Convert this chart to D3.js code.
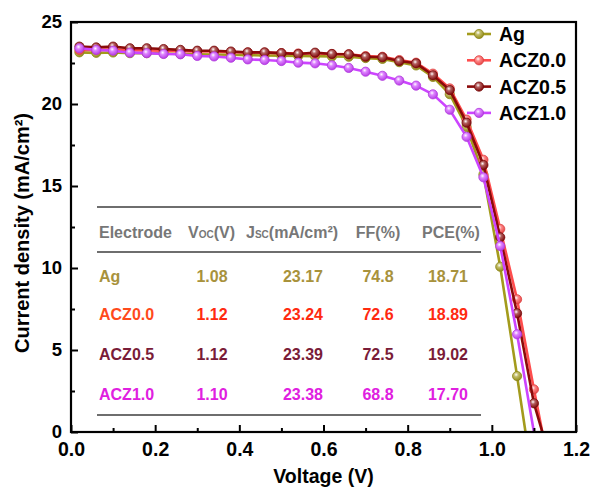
<!DOCTYPE html>
<html>
<head>
<meta charset="utf-8">
<script src="https://cdn.jsdelivr.net/npm/d3@7"></script>
<style>
  body { margin:0; background:#fff; }
  text { font-family: "Liberation Sans", Arial, sans-serif; font-weight: bold; }
</style>
</head>
<body>
<svg width="592" height="488"></svg>
<script>
//***************************** data *****************************//
var voltage = [0.02,0.06,0.10,0.14,0.18,0.22,0.26,0.30,0.34,0.38,0.42,0.46,0.50,0.54,
  0.58,0.62,0.66,0.70,0.74,0.78,0.82,0.86,0.90,0.94,0.98,1.02,1.06,1.10];

var names = ["Ag","ACZ0.0","ACZ0.5","ACZ1.0"];
var jAg   = [23.15,23.12,23.14,23.1,23.1,23.08,23.05,23.03,23.02,23.0,22.98,22.96,22.95,22.93,
  22.92,22.9,22.88,22.8,22.75,22.55,22.35,21.65,20.6,18.6,15.7,10.08,3.41];
var jAcz00 = [23.3,23.3,23.32,23.28,23.27,23.25,23.22,23.2,23.2,23.16,23.14,23.13,23.1,23.08,
  23.08,23.05,23.03,22.92,22.88,22.68,22.52,21.85,20.95,19.05,16.6,12.38,8.09,2.6];
var jAcz05 = [23.5,23.45,23.5,23.4,23.4,23.35,23.3,23.25,23.25,23.2,23.15,23.15,23.1,23.05,
  23.13,23.05,23.03,22.88,22.85,22.62,22.48,21.75,20.85,18.86,16.28,11.87,7.24,1.75];
var jAcz10 = [23.4,23.3,23.25,23.13,23.1,23.05,23.03,22.93,22.9,22.82,22.72,22.68,22.62,22.52,
  22.48,22.36,22.2,21.97,21.72,21.43,21.12,20.59,19.65,18.0,15.53,11.34,5.96];

// table
var vocVals = ["1.08","1.12","1.12","1.10"];
var jscVals = ["23.17","23.24","23.39","23.38"];
var ffVals  = ["74.8","72.6","72.5","68.8"];
var pceVals = ["18.71","18.89","19.02","17.70"];
var vocNum = [1.08,1.12,1.12,1.10];

var xTicks = [0,0.2,0.4,0.6,0.8,1.0,1.2];
var yTicks = [0,5,10,15,20,25];

var lineColors = ["#a39b1c","#ff4d4d","#8b0a0a","#cc44ff"];
var tableColors = ["#a8923c","#ff4a1c","#7a1c38","#e020e0"];
var valueColors = ["#a8923c","#ff2a10","#7a1c38","#e020e0"];

//***************************** chart *****************************//
var svg = d3.select("svg");
var margins = {top:22, left:71, right:16, bottom:56};
var width = 592 - margins.left - margins.right;
var height = 488 - margins.top - margins.bottom;

var xScale = d3.scaleLinear().domain([0,1.2]).range([0,width]);
var yScale = d3.scaleLinear().domain([0,25]).range([height,0]);

var defs = svg.append("defs");
defs.append("clipPath").attr("id","clip")
  .append("rect").attr("width",width).attr("height",height);
lineColors.forEach(function(c,i){
  var g = defs.append("radialGradient").attr("id","ball"+i)
    .attr("cx","40%").attr("cy","35%").attr("r","65%");
  g.append("stop").attr("offset","0%").attr("stop-color","#ffffff");
  g.append("stop").attr("offset","35%").attr("stop-color",d3.interpolateRgb(c,"#fff")(0.35));
  g.append("stop").attr("offset","100%").attr("stop-color",d3.color(c).darker(0.3));
});

var plot = svg.append("g")
  .attr("transform","translate("+margins.left+","+margins.top+")");

var series = [jAg,jAcz00,jAcz05,jAcz10].map(function(arr,i){
  var pts = arr.map(function(j,k){ return {v:voltage[k], j:j}; });
  return {name:names[i], pts:pts, end:{v:vocNum[i], j:0}, i:i};
});

var line = d3.line().x(function(d){return xScale(d.v);}).y(function(d){return yScale(d.j);});

var curves = plot.append("g").attr("clip-path","url(#clip)");
series.forEach(function(s){
  var g = curves.append("g");
  g.append("path")
    .attr("d", line(s.pts.concat([s.end])))
    .attr("fill","none")
    .attr("stroke",lineColors[s.i])
    .attr("stroke-width",2.6);
  g.selectAll("circle").data(s.pts).enter().append("circle")
    .attr("cx",function(d){return xScale(d.v);})
    .attr("cy",function(d){return yScale(d.j);})
    .attr("r",4.6)
    .attr("fill","url(#ball"+s.i+")")
    .attr("stroke",d3.color(lineColors[s.i]).darker(0.4))
    .attr("stroke-width",0.8);
});

// axes
var xAxis = d3.axisBottom(xScale).tickValues(xTicks).tickSizeInner(-7).tickSizeOuter(0)
  .tickFormat(d3.format(".1f"));
var xg = plot.append("g").attr("transform","translate(0,"+height+")").call(xAxis);
xg.selectAll(".tick text").attr("y",5).attr("dy","0.95em").attr("font-size",19.5).attr("fill","#000");
var xMinor = plot.append("g").attr("transform","translate(0,"+height+")")
  .call(d3.axisBottom(xScale).tickValues([0.1,0.3,0.5,0.7,0.9,1.1]).tickSize(-4).tickFormat(""));

var yAxis = d3.axisLeft(yScale).tickValues(yTicks).tickSizeInner(-7).tickSizeOuter(0);
var yg = plot.append("g").call(yAxis);
yg.selectAll(".tick text").attr("x",-9).attr("dy","0.3em").attr("font-size",18.5).attr("fill","#000");
var yMinor = plot.append("g")
  .call(d3.axisLeft(yScale).tickValues([2.5,7.5,12.5,17.5,22.5]).tickSize(-4).tickFormat(""));

[xg,xMinor,yg,yMinor].forEach(function(g){
  g.select(".domain").remove();
  g.selectAll(".tick line").attr("stroke","#000").attr("stroke-width",2);
});

plot.append("rect").attr("width",width).attr("height",height)
  .attr("fill","none").attr("stroke","#000").attr("stroke-width",2.2);

svg.append("text").attr("x",margins.left+width/2).attr("y",483)
  .attr("text-anchor","middle").attr("font-size",19.5).text("Voltage (V)");
svg.append("text")
  .attr("transform","translate(29,"+(margins.top+height/2+6)+") rotate(-90)")
  .attr("text-anchor","middle").attr("font-size",20)
  .text("Current density (mA/cm²)");

// legend
var legend = svg.append("g").attr("transform","translate(467,34)");
var rows = legend.selectAll("g").data(series).enter().append("g")
  .attr("transform",function(d,i){return "translate(0,"+(i*26.3)+")";});
rows.append("line").attr("x1",0).attr("x2",24)
  .attr("stroke",function(d){return lineColors[d.i];}).attr("stroke-width",2.6);
rows.append("circle").attr("cx",12).attr("r",4.6)
  .attr("fill",function(d){return "url(#ball"+d.i+")";})
  .attr("stroke",function(d){return d3.color(lineColors[d.i]).darker(0.4);})
  .attr("stroke-width",0.8);
rows.append("text").attr("x",32).attr("dy","0.36em").attr("font-size",19.5)
  .text(function(d){return d.name;});

// table
var table = svg.append("g");
[207,252,415].forEach(function(y){
  table.append("line").attr("x1",97).attr("x2",481).attr("y1",y).attr("y2",y)
    .attr("stroke","#6e6e6e").attr("stroke-width",2);
});
var head = table.append("g");
head.append("text").attr("x",99).attr("y",238).attr("fill","#777").attr("font-size",16).text("Electrode");
var hv = head.append("text").attr("x",188).attr("y",238).attr("fill","#777").attr("font-size",16);
hv.append("tspan").text("V");
hv.append("tspan").attr("font-size",10).text("OC");
hv.append("tspan").text("(V)");
var hj = head.append("text").attr("x",246).attr("y",238).attr("fill","#777").attr("font-size",16);
hj.append("tspan").text("J");
hj.append("tspan").attr("font-size",10).text("SC");
hj.append("tspan").text("(mA/cm²)");
head.append("text").attr("x",378).attr("y",238).attr("text-anchor","middle")
  .attr("fill","#777").attr("font-size",16).text("FF(%)");
head.append("text").attr("x",451).attr("y",238).attr("text-anchor","middle")
  .attr("fill","#777").attr("font-size",16).text("PCE(%)");

var rowY = [282,320,360,400];
names.forEach(function(n,i){
  var r = table.append("g");
  r.append("text").attr("x",99).attr("y",rowY[i]).attr("fill",tableColors[i])
    .attr("font-size",16).text(n);
  [[212,vocVals],[303,jscVals],[378,ffVals],[448,pceVals]].forEach(function(c){
    r.append("text").attr("x",c[0]).attr("y",rowY[i]).attr("text-anchor","middle")
      .attr("fill",valueColors[i]).attr("font-size",16).text(c[1][i]);
  });
});
</script>
</body>
</html>
